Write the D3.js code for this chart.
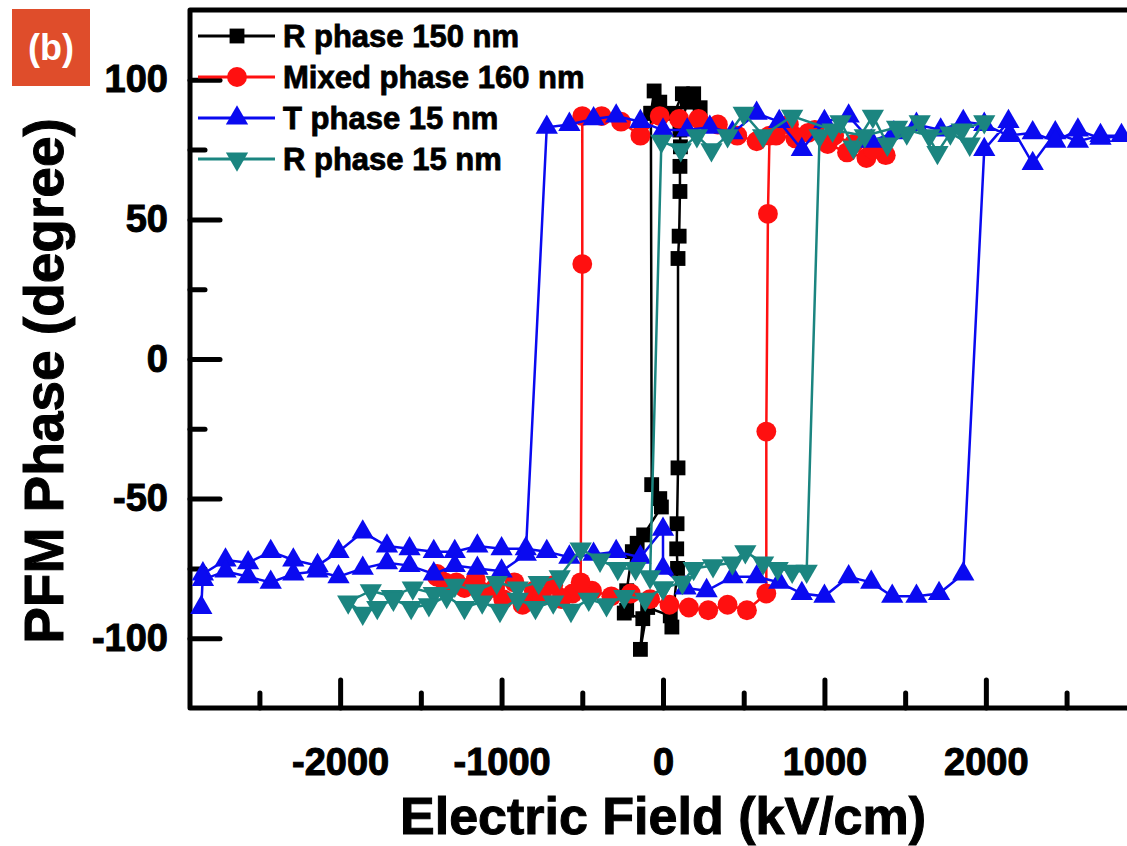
<!DOCTYPE html>
<html>
<head>
<meta charset="utf-8">
<script src="https://cdn.jsdelivr.net/npm/d3@7"></script>
<style>
  body { margin: 0; background: #ffffff; }
  text { font-family: "Liberation Sans", Arial, sans-serif; font-weight: bold; }
</style>
</head>
<body>
<div class="grafico"></div>
<script>
// [campo kV/cm, fase grados], en el orden del barrido
var rPhase150 = [
  [-75, 88], [-70, -45], [-20, -50], [-10, -53], [-120, -63], [-160, -66], [-190, -69],
  [-225, -83], [-225, -90], [-240, -91], [-125, -93], [-140, -104], [-95, -89], [45, -92],
  [55, -96], [90, -75], [85, -68], [87, -59], [93, -39], [93, 36], [100, 44], [105, 60],
  [105, 69], [108, 76], [105, 82], [150, 92], [190, 95], [230, 90], [120, 95], [70, 88],
  [-20, 92], [-55, 96], [-75, 88]
];

var mixed160 = [
  [-1400, -77], [-1280, -80], [-1160, -79], [-1040, -82], [-920, -80], [-800, -83], [-680, -81],
  [-560, -84], [-440, -83], [-320, -85], [-200, -84], [-80, -86], [40, -88], [160, -89],
  [280, -90], [400, -88], [520, -90], [640, -84], [640, -26], [650, 52], [660, 80], [780, 84],
  [900, 81], [1020, 77], [1140, 74], [1260, 72], [1380, 73], [1300, 75], [1180, 77], [1060, 80],
  [940, 82], [820, 79], [700, 80], [580, 78], [460, 80], [340, 84], [220, 86], [100, 86],
  [-20, 87], [-140, 80], [-260, 85], [-380, 87], [-500, 87], [-500, 34], [-510, -80],
  [-630, -86], [-750, -85], [-870, -88], [-990, -86], [-1110, -84], [-1230, -82], [-1350, -80],
  [-1400, -78]
];

var tPhase15 = [
  [-2860, -89], [-2850, -77], [-2710, -72], [-2570, -73], [-2430, -69], [-2290, -72], [-2140, -74],
  [-2010, -69], [-1860, -62], [-1710, -67], [-1570, -68], [-1420, -69], [-1290, -69], [-1150, -67],
  [-1000, -68], [-850, -68], [-720, -69], [-580, -71], [-430, -70], [-290, -69], [-140, -71],
  [0, -61], [0, -75], [140, -82], [270, -83], [430, -78], [580, -78], [720, -80], [860, -84],
  [1000, -85], [1150, -78], [1290, -80], [1420, -85], [1570, -85], [1710, -84], [1860, -77],
  [1990, 75], [2140, 85], [2290, 70], [2430, 81], [2570, 78], [2710, 80], [2840, 80],
  [2710, 79], [2570, 82], [2430, 78], [2290, 81], [2140, 80], [1990, 84], [1860, 85], [1720, 82],
  [1570, 84], [1430, 81], [1290, 78], [1150, 87], [1000, 85], [860, 75], [720, 85], [580, 88],
  [430, 81], [290, 83], [150, 82], [0, 82], [-140, 85], [-290, 87], [-430, 86], [-580, 84],
  [-720, 83], [-850, -70], [-1000, -76], [-1150, -75], [-1290, -74], [-1420, -77], [-1570, -74],
  [-1710, -73], [-1860, -75], [-2010, -78], [-2140, -76], [-2290, -77], [-2430, -80], [-2570, -78],
  [-2710, -76], [-2850, -79]
];

var rPhase15 = [
  [0, -82], [120, -80], [190, -75], [310, -74], [430, -73], [510, -69], [620, -73], [710, -75],
  [800, -76], [890, -76], [970, 80], [1100, 85], [1180, 76], [1300, 87], [1390, 77], [1510, 81],
  [1590, 85], [1700, 74], [1780, 81], [1900, 77], [1990, 85], [1850, 82], [1650, 80], [1450, 83],
  [1250, 80], [1050, 82], [800, 87], [620, 80], [500, 88], [400, 80], [300, 75], [210, 80],
  [110, 75], [-10, 78], [-80, -78], [-170, -75], [-280, -75], [-390, -72], [-510, -68],
  [-640, -78], [-770, -80], [-900, -82], [-1030, -80], [-1160, -83], [-1290, -81], [-1420, -84],
  [-1550, -82], [-1680, -85], [-1810, -83], [-1950, -87], [-1860, -91], [-1770, -89], [-1670, -86],
  [-1560, -89], [-1450, -88], [-1340, -85], [-1230, -89], [-1120, -87], [-1010, -90], [-900, -86],
  [-790, -89], [-680, -87], [-570, -90], [-460, -86], [-350, -88], [-240, -85], [-110, -86],
  [0, -82]
];

var seriesNames = ["R phase 150 nm", "Mixed phase 160 nm", "T phase 15 nm", "R phase 15 nm"];
var seriesData = [rPhase150, mixed160, tPhase15, rPhase15];
var xTicks = [-2000, -1000, 0, 1000, 2000];
var xMinor = [-2500, -1500, -500, 500, 1500, 2500];
var yTicks = [-100, -50, 0, 50, 100];
var yMinor = [-75, -25, 25, 75];

var colores = ["#000000", "#ff1010", "#0a0af0", "#1b8580"];
var simbolos = [
  d3.symbol().type(d3.symbolSquare).size(220),
  d3.symbol().type(d3.symbolCircle).size(310),
  d3.symbol().type(d3.symbolTriangle).size(215),
  d3.symbol().type(d3.symbolTriangle).size(215)
];
var giro = [0, 0, 0, 180];

var svg = d3
  .select('.grafico')
  .append('svg')
  .attr('width', 1127)
  .attr('height', 846);

var xScale = d3.scaleLinear()
  .domain([-2930, 2930])
  .range([190, 1136]);

var yScale = d3.scaleLinear()
  .domain([-125, 125])
  .range([708, 10]);

// etiqueta (b)
svg.append('rect')
  .attr('x', 12).attr('y', 9)
  .attr('width', 78).attr('height', 77)
  .attr('fill', '#df4d2b');

svg.append('text')
  .attr('x', 51).attr('y', 60)
  .attr('text-anchor', 'middle')
  .attr('font-size', 36)
  .attr('fill', '#ffffff')
  .text('(b)');

// ejes
var xAxis = d3.axisBottom(xScale)
  .tickValues(xTicks)
  .tickSize(-28)
  .tickPadding(40)
  .tickFormat(function (d) { return String(d); });

var xAxisMinor = d3.axisBottom(xScale)
  .tickValues(xMinor)
  .tickSize(-15)
  .tickFormat('');

var yAxis = d3.axisLeft(yScale)
  .tickValues(yTicks)
  .tickSize(-30)
  .tickPadding(22)
  .tickFormat(function (d) { return String(d); });

var yAxisMinor = d3.axisLeft(yScale)
  .tickValues(yMinor)
  .tickSize(-15)
  .tickFormat('');

svg.append('g').attr('transform', 'translate(0, 708)').call(xAxis);
svg.append('g').attr('transform', 'translate(0, 708)').call(xAxisMinor);
svg.append('g').attr('transform', 'translate(190, 0)').call(yAxis);
svg.append('g').attr('transform', 'translate(190, 0)').call(yAxisMinor);

svg.selectAll('.domain').remove();
svg.selectAll('.tick line')
  .attr('stroke', '#000')
  .attr('stroke-width', 5)
  .attr('stroke-linecap', 'round');
svg.selectAll('.tick text')
  .attr('fill', '#000')
  .attr('stroke', '#000')
  .attr('stroke-width', 1)
  .attr('font-size', 38)
  .style('font-family', '"Liberation Sans", Arial, sans-serif')
  .style('font-weight', 'bold');

// marco
svg.append('path')
  .attr('d', 'M1140,10 H190 V708 H1140')
  .attr('fill', 'none')
  .attr('stroke', '#000')
  .attr('stroke-width', 5)
  .attr('stroke-linejoin', 'round');

// titulos
svg.append('text')
  .attr('x', 663).attr('y', 834)
  .attr('text-anchor', 'middle')
  .attr('font-size', 52)
  .attr('stroke', '#000')
  .attr('stroke-width', 1)
  .text('Electric Field (kV/cm)');

svg.append('text')
  .attr('transform', 'translate(63, 381) rotate(-90)')
  .attr('text-anchor', 'middle')
  .attr('font-size', 55)
  .attr('stroke', '#000')
  .attr('stroke-width', 1)
  .text('PFM Phase (degree)');

// curvas
var linea = d3.line()
  .x(function (d) { return xScale(d[0]); })
  .y(function (d) { return yScale(d[1]); });

seriesData.forEach(function (serie, i) {
  var g = svg.append('g');

  g.append('path')
    .datum(serie)
    .attr('d', linea)
    .attr('fill', 'none')
    .attr('stroke', colores[i])
    .attr('stroke-width', 2.5);

  g.selectAll('path.punto')
    .data(serie)
    .enter()
    .append('path')
    .attr('class', 'punto')
    .attr('d', simbolos[i])
    .attr('fill', colores[i])
    .attr('transform', function (d) {
      return 'translate(' + xScale(d[0]) + ',' + yScale(d[1]) + ') rotate(' + giro[i] + ')';
    });
});

// leyenda
var leyenda = svg.append('g');
var filas = [36, 77, 118, 159];

seriesNames.forEach(function (nombre, i) {
  leyenda.append('line')
    .attr('x1', 198).attr('x2', 275)
    .attr('y1', filas[i]).attr('y2', filas[i])
    .attr('stroke', colores[i])
    .attr('stroke-width', 3);

  leyenda.append('path')
    .attr('d', simbolos[i])
    .attr('fill', colores[i])
    .attr('transform', 'translate(237,' + filas[i] + ') rotate(' + giro[i] + ')');

  leyenda.append('text')
    .attr('x', 283)
    .attr('y', filas[i] + 11)
    .attr('font-size', 31)
    .attr('fill', '#000')
    .attr('stroke', '#000')
    .attr('stroke-width', 0.8)
    .text(nombre);
});
</script>
</body>
</html>
